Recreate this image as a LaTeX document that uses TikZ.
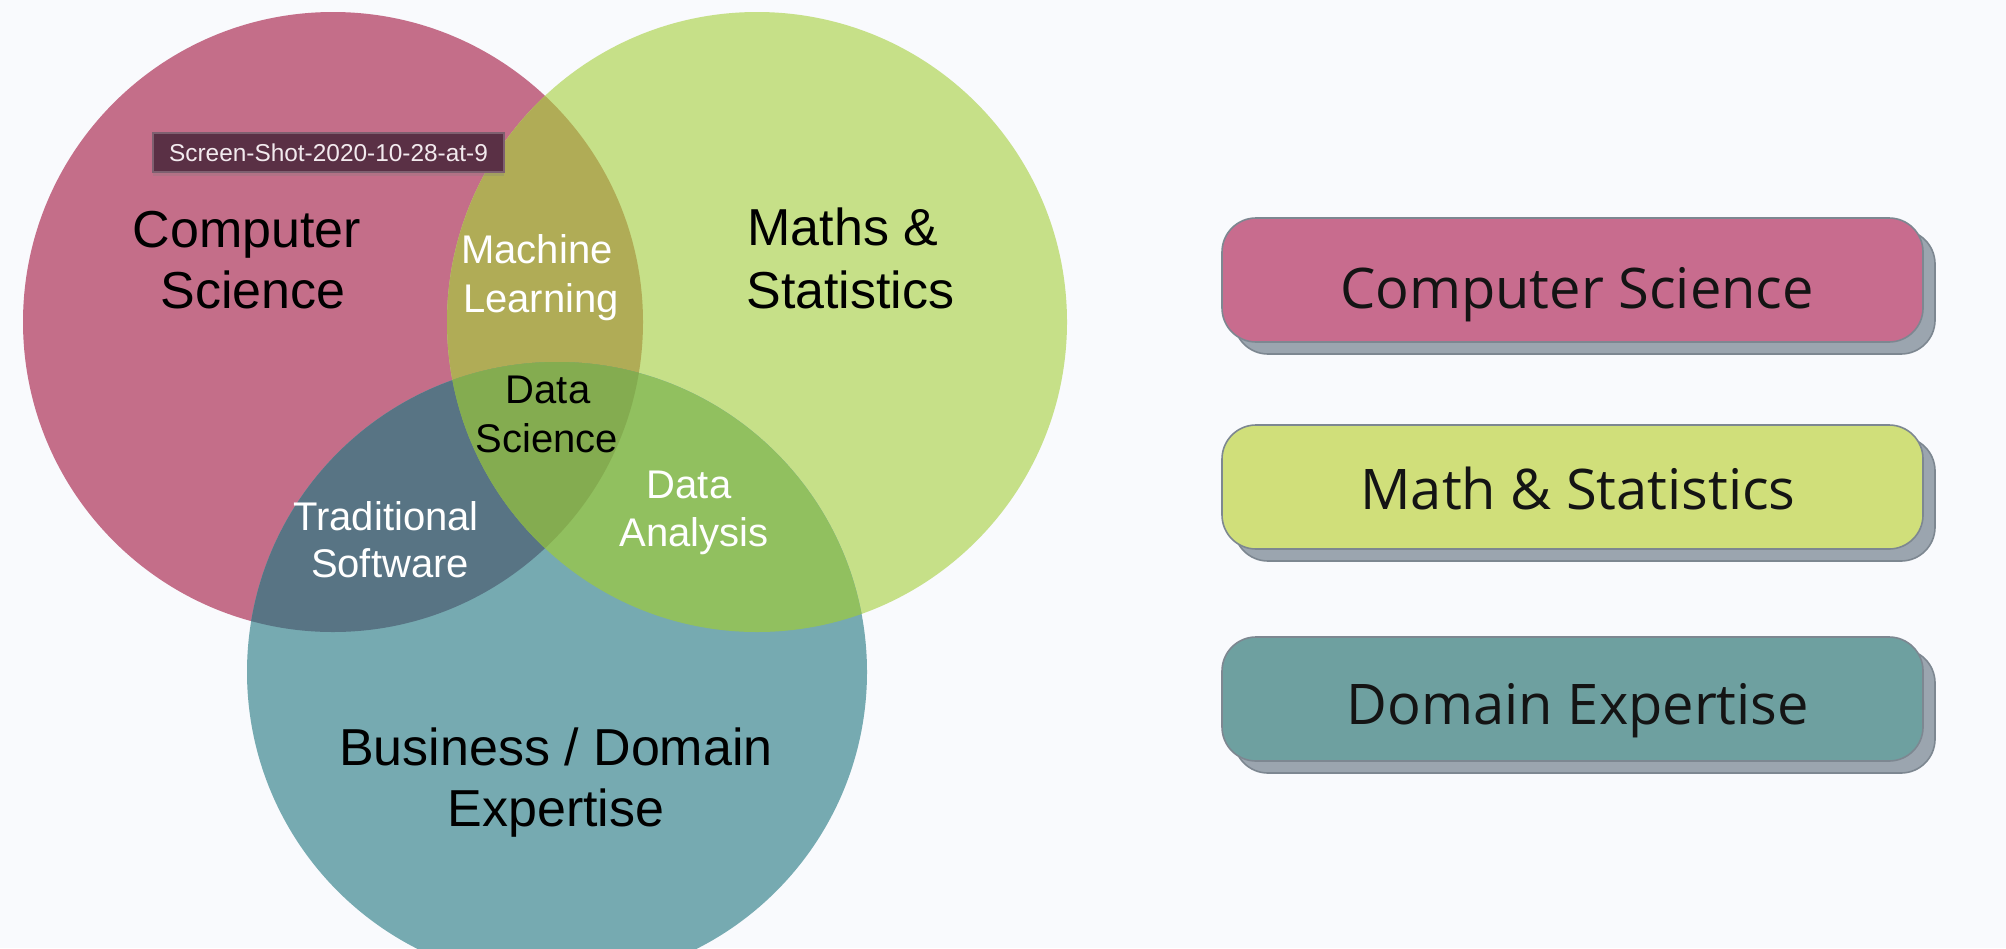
\documentclass[tikz,border=0pt]{standalone}
\usepackage{fontspec}
\setmainfont{Liberation Sans}
\newfontfamily\boxfont{Open Sans}
\usetikzlibrary{shadows}

% Venn regions
\definecolor{bgcol}{HTML}{F9FAFD}
\definecolor{csred}{HTML}{C46E89}
\definecolor{msgreen}{HTML}{C6E088}
\definecolor{deteal}{HTML}{76AAB1}
\definecolor{mlolive}{HTML}{B0AC56}
\definecolor{tsslate}{HTML}{587484}
\definecolor{dagreen}{HTML}{91C05F}
\definecolor{dscore}{HTML}{84AC50}
% legend boxes
\definecolor{boxpink}{HTML}{C86C8E}
\definecolor{boxlime}{HTML}{D0DF7A}
\definecolor{boxteal}{HTML}{6EA0A0}
\definecolor{boxedge}{HTML}{7D8791}
\definecolor{shadowgrey}{HTML}{9BA5AF}
% caption tag
\definecolor{tipfill}{HTML}{5A3045}
\definecolor{tipedge}{HTML}{7E6070}
\definecolor{tiptext}{HTML}{F2EAEE}

\newcommand{\vennr}{155pt}

\begin{document}
\begin{tikzpicture}[x=0.5pt,y=-0.5pt,
  bigtext/.style={font=\fontsize{26}{30}\selectfont, text=black, anchor=base, inner sep=0pt},
  bigtextw/.style={bigtext, anchor=base west},
  smalltext/.style={font=\fontsize{20}{24}\selectfont, anchor=base, inner sep=0pt},
  legbox/.style={draw=boxedge, line width=0.8pt, rounded corners=17pt,
    minimum width=350.5pt, minimum height=62pt, inner sep=0pt,
    copy shadow={shadow xshift=6pt, shadow yshift=-6pt, fill=shadowgrey, draw=boxedge}},
  legtext/.style={font=\boxfont\fontsize{28}{34}\selectfont, text=black!92, anchor=base, inner sep=0pt},
  tagbox/.style={fill=tipfill, draw=tipedge, line width=0.6pt,
    minimum width=175.5pt, minimum height=19.5pt, inner sep=0pt,
    text=tiptext, font=\fontsize{12.2}{14}\selectfont,
    drop shadow={shadow xshift=0pt, shadow yshift=-2pt, opacity=0.25}}
]
\useasboundingbox (0,0) rectangle (2006,948);
\fill[bgcol] (0,0) rectangle (2006,948);
\clip (0,0) rectangle (2006,948);

% circle centres
\coordinate (cCS) at (333,322);
\coordinate (cMS) at (757,322);
\coordinate (cDE) at (557,672);

% single-set areas
\fill[csred]   (cCS) circle[radius=\vennr];
\fill[msgreen] (cMS) circle[radius=\vennr];
\fill[deteal]  (cDE) circle[radius=\vennr];

% pairwise overlaps
\begin{scope}
  \clip (cCS) circle[radius=\vennr];
  \fill[mlolive] (cMS) circle[radius=\vennr];
\end{scope}
\begin{scope}
  \clip (cCS) circle[radius=\vennr];
  \fill[tsslate] (cDE) circle[radius=\vennr];
\end{scope}
\begin{scope}
  \clip (cMS) circle[radius=\vennr];
  \fill[dagreen] (cDE) circle[radius=\vennr];
\end{scope}
% centre overlap
\begin{scope}
  \clip (cCS) circle[radius=\vennr];
  \clip (cMS) circle[radius=\vennr];
  \fill[dscore] (cDE) circle[radius=\vennr];
\end{scope}

% set labels
\node[bigtext] (cs1) at (247,247) {Computer};
\node[bigtext] (cs2) at (253,308) {Science};
\node[bigtextw] (ms1) at (747,245) {Maths \&};
\node[bigtextw] (ms2) at (746,308) {Statistics};
\node[bigtext] (de1) at (556,765) {Business / Domain};
\node[bigtext] (de2) at (556,826) {Expertise};

% overlap labels
\node[smalltext, text=white] (ml1) at (537,263) {Machine};
\node[smalltext, text=white] (ml2) at (541,312) {Learning};
\node[smalltext, text=black] (ds1) at (548,403) {Data};
\node[smalltext, text=black] (ds2) at (547,452) {Science};
\node[smalltext, text=white] (ts1) at (386,530) {Traditional};
\node[smalltext, text=white] (ts2) at (390,577) {Software};
\node[smalltext, text=white] (da1) at (689,498) {Data};
\node[smalltext, text=white] (da2) at (694,546) {Analysis};

% file name tag
\node[tagbox] (tag) at (328.5,152.5) {Screen-Shot-2020-10-28-at-9};

% legend
\node[legbox, fill=boxpink] (boxcs) at (1572.5,280) {};
\node[legtext] (txtcs) at (1577,308) {Computer Science};
\node[legbox, fill=boxlime] (boxms) at (1572.5,487) {};
\node[legtext] (txtms) at (1578,509) {Math \& Statistics};
\node[legbox, fill=boxteal] (boxde) at (1572.5,699) {};
\node[legtext] (txtde) at (1578,724) {Domain Expertise};
\end{tikzpicture}
\end{document}
